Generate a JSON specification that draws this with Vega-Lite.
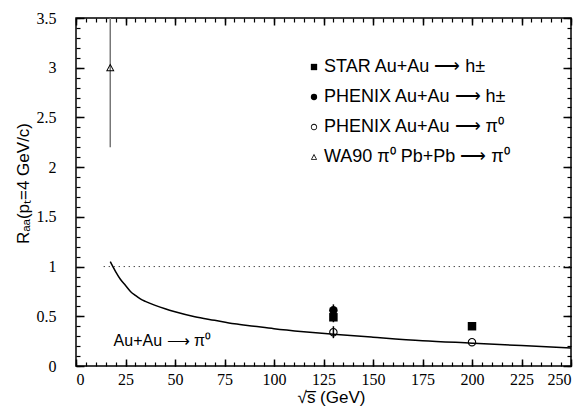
{
  "$schema": "https://vega.github.io/schema/vega-lite/v6.json",
  "width": 495,
  "height": 348,
  "autosize": {"type": "none"},
  "padding": {"left": 76, "top": 18, "right": 16, "bottom": 43},
  "background": "white",
  "config": {
    "view": {"stroke": "black", "strokeWidth": 1.5},
    "axis": {
      "grid": false,
      "domain": false,
      "labelColor": "black",
      "titleColor": "black",
      "labelFont": "Liberation Serif",
      "labelFontSize": 16,
      "titleFont": "Liberation Sans",
      "titleFontSize": 17,
      "titleFontWeight": "normal"
    }
  },
  "datasets": {
    "curve": [
      {"x": 17.3, "y": 1.05}, {"x": 20, "y": 0.95}, {"x": 22.5, "y": 0.87}, {"x": 25, "y": 0.81},
      {"x": 27.5, "y": 0.75}, {"x": 30, "y": 0.71}, {"x": 32.5, "y": 0.675}, {"x": 35, "y": 0.65},
      {"x": 40, "y": 0.61}, {"x": 45, "y": 0.575}, {"x": 50, "y": 0.545}, {"x": 60, "y": 0.495},
      {"x": 70, "y": 0.46}, {"x": 80, "y": 0.425}, {"x": 90, "y": 0.4}, {"x": 100, "y": 0.375},
      {"x": 115, "y": 0.345}, {"x": 130, "y": 0.32}, {"x": 150, "y": 0.29}, {"x": 175, "y": 0.255},
      {"x": 200, "y": 0.23}, {"x": 225, "y": 0.205}, {"x": 250, "y": 0.18}
    ],
    "pts": [
      {"series": "STAR Au+Au ⟶ h±", "x": 130, "y": 0.49, "lo": 0.44, "hi": 0.54},
      {"series": "STAR Au+Au ⟶ h±", "x": 200, "y": 0.4, "lo": null, "hi": null},
      {"series": "PHENIX Au+Au ⟶ h±", "x": 130, "y": 0.56, "lo": 0.5, "hi": 0.62},
      {"series": "PHENIX Au+Au ⟶ π⁰", "x": 130, "y": 0.34, "lo": 0.28, "hi": 0.4},
      {"series": "PHENIX Au+Au ⟶ π⁰", "x": 200, "y": 0.24, "lo": null, "hi": null},
      {"series": "WA90 π⁰ Pb+Pb ⟶ π⁰", "x": 17.3, "y": 3.0, "lo": 2.2, "hi": 3.8}
    ],
    "ref": [{"x": 14, "x2": 250, "y": 1}],
    "lab": [{"x": 19, "y": 0.25, "t": "Au+Au ⟶ π⁰"}]
  },
  "layer": [
    {
      "data": {"name": "curve"},
      "mark": {"type": "line", "color": "black", "strokeWidth": 1.5, "interpolate": "monotone"},
      "encoding": {
        "x": {
          "field": "x", "type": "quantitative",
          "scale": {"domain": [0, 250], "nice": false, "zero": false},
          "axis": {"orient": "bottom", "values": [0, 25, 50, 75, 100, 125, 150, 175, 200, 225, 250],
                   "ticks": true, "tickColor": "black", "tickWidth": 1.5,
                   "offset": -7, "tickSize": 7, "labelPadding": 5, "title": "√s̅ (GeV)", "titlePadding": 2, "titleX": 255}
        },
        "y": {
          "field": "y", "type": "quantitative",
          "scale": {"domain": [0, 3.5], "nice": false, "zero": false},
          "axis": {"orient": "left", "values": [0, 0.5, 1, 1.5, 2, 2.5, 3, 3.5], "format": "~g",
                   "ticks": true, "tickColor": "black", "tickWidth": 1.5,
                   "offset": -8, "tickSize": 8, "labelPadding": 20, "title": "Rₐₐ(pₜ=4 GeV/c)", "titlePadding": 4, "titleY": 165}
        }
      }
    },
    {
      "data": {"name": "ref"},
      "mark": {"type": "rule", "color": "black", "strokeWidth": 1, "strokeDash": [1, 4]},
      "encoding": {
        "x": {"field": "x", "type": "quantitative",
              "axis": {"orient": "bottom", "values": [0,5,10,15,20,25,30,35,40,45,50,55,60,65,70,75,80,85,90,95,100,105,110,115,120,125,130,135,140,145,150,155,160,165,170,175,180,185,190,195,200,205,210,215,220,225,230,235,240,245,250],
                       "ticks": true, "tickColor": "black", "tickWidth": 1.2,
                       "offset": -4, "tickSize": 4, "labels": false, "title": null}},
        "x2": {"field": "x2"},
        "y": {"field": "y", "type": "quantitative",
              "axis": {"orient": "left", "values": [0,0.1,0.2,0.3,0.4,0.5,0.6,0.7,0.8,0.9,1,1.1,1.2,1.3,1.4,1.5,1.6,1.7,1.8,1.9,2,2.1,2.2,2.3,2.4,2.5,2.6,2.7,2.8,2.9,3,3.1,3.2,3.3,3.4,3.5],
                       "ticks": true, "tickColor": "black", "tickWidth": 1.2,
                       "offset": -4, "tickSize": 4, "labels": false, "title": null}}
      }
    },
    {
      "data": {"name": "pts"},
      "transform": [{"filter": "isValid(datum.lo)"}],
      "mark": {"type": "rule", "strokeWidth": 1.5, "clip": true},
      "encoding": {
        "x": {"field": "x", "type": "quantitative",
              "axis": {"orient": "top", "values": [0, 25, 50, 75, 100, 125, 150, 175, 200, 225, 250],
                       "ticks": true, "tickColor": "black", "tickWidth": 1.5,
                       "offset": -7, "tickSize": 7, "labels": false, "title": null}},
        "y": {"field": "lo", "type": "quantitative",
              "axis": {"orient": "right", "values": [0, 0.5, 1, 1.5, 2, 2.5, 3, 3.5],
                       "ticks": true, "tickColor": "black", "tickWidth": 1.5,
                       "offset": -8, "tickSize": 8, "labels": false, "title": null}},
        "y2": {"field": "hi"},
        "color": {"condition": {"test": "datum.x < 50", "value": "#777777"}, "value": "black"}
      }
    },
    {
      "data": {"name": "pts"},
      "mark": {"type": "point", "filled": true, "color": "black", "strokeWidth": 0, "opacity": 1, "size": 72},
      "encoding": {
        "x": {"field": "x", "type": "quantitative",
              "axis": {"orient": "top", "values": [0,5,10,15,20,25,30,35,40,45,50,55,60,65,70,75,80,85,90,95,100,105,110,115,120,125,130,135,140,145,150,155,160,165,170,175,180,185,190,195,200,205,210,215,220,225,230,235,240,245,250],
                       "ticks": true, "tickColor": "black", "tickWidth": 1.2,
                       "offset": -4, "tickSize": 4, "labels": false, "title": null}},
        "y": {"field": "y", "type": "quantitative",
              "axis": {"orient": "right", "values": [0,0.1,0.2,0.3,0.4,0.5,0.6,0.7,0.8,0.9,1,1.1,1.2,1.3,1.4,1.5,1.6,1.7,1.8,1.9,2,2.1,2.2,2.3,2.4,2.5,2.6,2.7,2.8,2.9,3,3.1,3.2,3.3,3.4,3.5],
                       "ticks": true, "tickColor": "black", "tickWidth": 1.2,
                       "offset": -4, "tickSize": 4, "labels": false, "title": null}},
        "shape": {
          "field": "series", "type": "nominal",
          "scale": {"domain": ["STAR Au+Au ⟶ h±", "PHENIX Au+Au ⟶ h±", "PHENIX Au+Au ⟶ π⁰", "WA90 π⁰ Pb+Pb ⟶ π⁰"],
                    "range": ["square", "circle",
                              "M1,0 A1,1 0 1,1 -1,0 A1,1 0 1,1 1,0 Z M0.74,0 A0.74,0.74 0 1,0 -0.74,0 A0.74,0.74 0 1,0 0.74,0 Z",
                              "M0,-1 L1,0.85 L-1,0.85 Z M0,-0.5 L-0.62,0.6 L0.62,0.6 Z"]},
          "legend": {"orient": "none", "legendX": 229, "legendY": 40, "title": null,
                     "labelFont": "Liberation Sans", "labelFontSize": 18, "labelColor": "black",
                     "symbolSize": 40, "symbolFillColor": "black", "symbolStrokeWidth": 0,
                     "rowPadding": 12, "labelOffset": 1, "labelLimit": 400}
        }
      }
    },
    {
      "data": {"name": "lab"},
      "mark": {"type": "text", "align": "left", "baseline": "middle", "font": "Liberation Sans", "fontSize": 16, "color": "black"},
      "encoding": {
        "x": {"field": "x", "type": "quantitative", "axis": null},
        "y": {"field": "y", "type": "quantitative", "axis": null},
        "text": {"field": "t"}
      }
    }
  ],
  "resolve": {"axis": {"x": "independent", "y": "independent"}}
}
